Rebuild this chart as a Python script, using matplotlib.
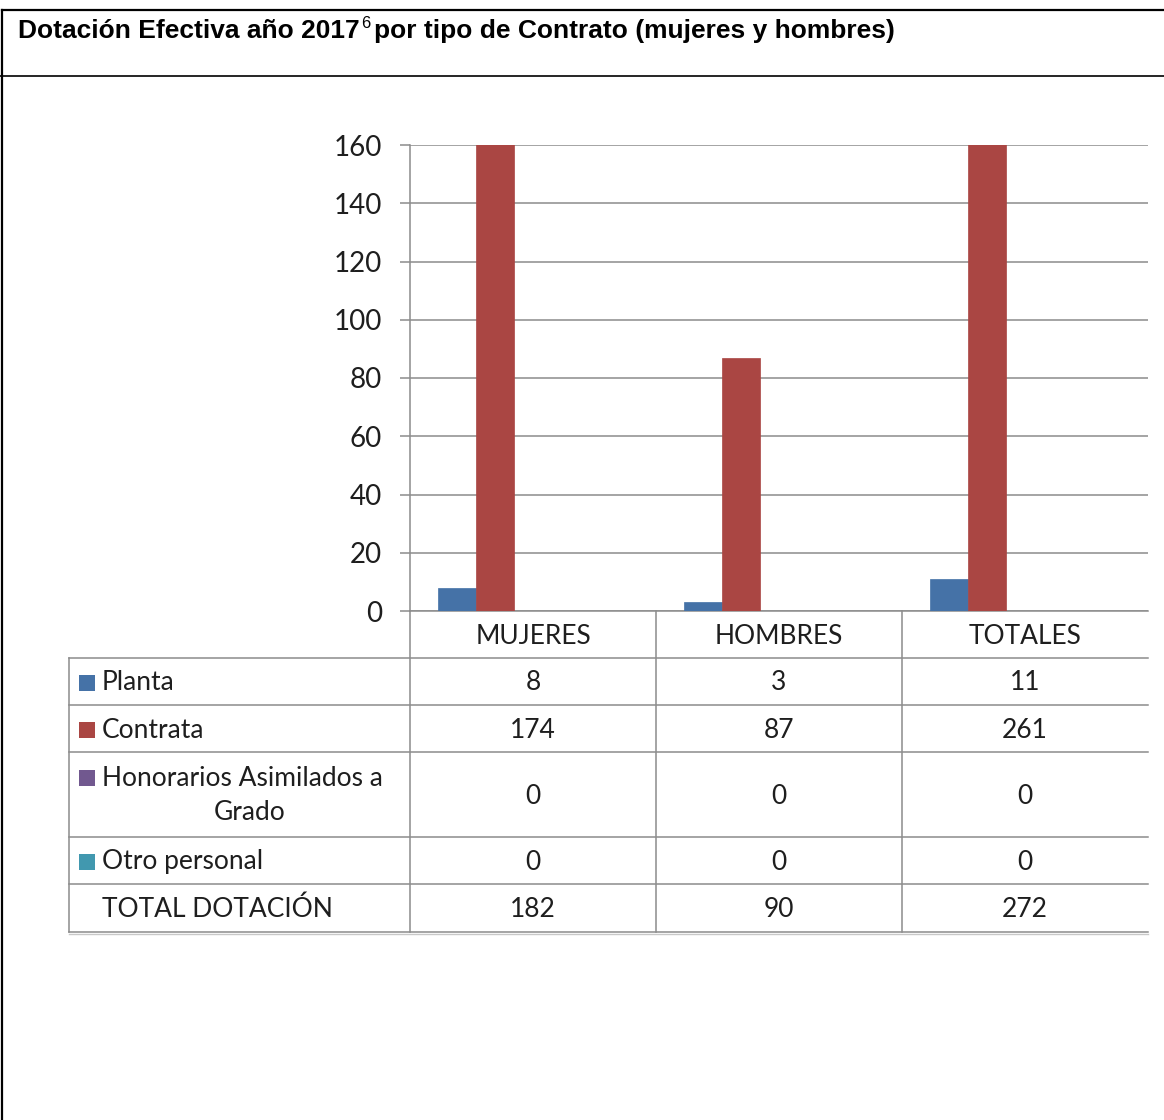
import numpy as np
import matplotlib
matplotlib.use('Agg')
import matplotlib.pyplot as plt
from matplotlib.patches import Rectangle

# Data
categories = ['MUJERES', 'HOMBRES', 'TOTALES']
series_names = ['Planta', 'Contrata', 'Honorarios Asimilados a\nGrado', 'Otro personal', 'TOTAL DOTACIÓN']
planta = [8, 3, 11]
contrata = [174, 87, 261]
honorarios = [0, 0, 0]
otro = [0, 0, 0]
total = [182, 90, 272]
series_values = [planta, contrata, honorarios, otro, total]
series_colors = ['#4572A7', '#AA4643', '#71588F', '#4198AF', None]
y_ticks = [0, 20, 40, 60, 80, 100, 120, 140, 160]

W, H = 1164, 1120
chart_font = ['Lato', 'DejaVu Sans']
title_font = ['Liberation Sans Narrow', 'Liberation Sans', 'DejaVu Sans']
grid_col = '#8c8c8c'
txt_col = '#1e1e1e'

fig = plt.figure(figsize=(W / 100, H / 100), dpi=100)
fig.patch.set_facecolor('white')

# background layer in pixel coordinates for frame and data table
bg = fig.add_axes([0, 0, 1, 1], zorder=0)
bg.set_xlim(0, W)
bg.set_ylim(H, 0)
bg.axis('off')

# page frame
bg.plot([2, W], [10, 10], color='black', lw=1.6)
bg.plot([2, 2], [10, H], color='black', lw=1.6)
bg.plot([0, W], [76, 76], color='black', lw=1.2)

# title with superscript footnote mark
renderer = fig.canvas.get_renderer()
t1 = bg.text(18, 31, 'Dotación Efectiva año 2017', family=title_font, fontweight='bold',
             fontsize=19, va='center', ha='left', color='black')
bb = t1.get_window_extent(renderer)
t2 = fig.text((bb.x1 + 1) / W, (H - 23) / H, '6', family=title_font, fontsize=12,
              va='center', ha='left', color='black')
bb2 = t2.get_window_extent(renderer)
fig.text((bb2.x1 + 4) / W, (H - 31) / H, 'por tipo de Contrato (mujeres y hombres)',
         family=title_font, fontweight='bold', fontsize=19, va='center', ha='left', color='black')

# plot area
px_l, px_r, px_t, px_b = 410, 1148, 145, 611
ax = fig.add_axes([px_l / W, (H - px_b) / H, (px_r - px_l) / W, (px_b - px_t) / H], zorder=1)
ax.set_facecolor('none')

n_series = len(series_values)
bar_w = 38 / 246
x = np.arange(len(categories))
for j, (vals, col) in enumerate(zip(series_values, series_colors)):
    if col is None:
        continue
    offs = (j - (n_series - 1) / 2) * bar_w
    ax.bar(x + offs, vals, width=bar_w, color=col, edgecolor=col, linewidth=0.5, zorder=3)

ax.set_xlim(-0.5, len(categories) - 0.5)
ax.set_ylim(0, 160)
ax.set_yticks(y_ticks)
ax.set_yticklabels([str(v) for v in y_ticks], family=chart_font, fontsize=20, color=txt_col)
ax.set_xticks([])
ax.yaxis.grid(True, color=grid_col, lw=1.1, zorder=0)
ax.tick_params(axis='y', length=7.2, width=1.1, color=grid_col, pad=13)
for s in ['top', 'right', 'bottom']:
    ax.spines[s].set_visible(False)
ax.spines['left'].set_color(grid_col)
ax.spines['left'].set_linewidth(1.1)

# data table
col_edges = [410, 656, 902, 1148]
row_edges = [658, 705, 752, 837, 884, 932]
lc = dict(color=grid_col, lw=1.1)
bg.plot([410, 1148], [611, 611], **lc)
for yy in row_edges:
    bg.plot([69, 1148], [yy, yy], **lc)
bg.plot([69, 1148], [934, 934], color='#c8c8c8', lw=1.0)
for xx in col_edges[:-1]:
    bg.plot([xx, xx], [611, 932], **lc)
bg.plot([69, 69], [658, 932], **lc)

tfs = 19
dy = 1.5
for i, cat in enumerate(categories):
    cx = (col_edges[i] + col_edges[i + 1]) / 2
    bg.text(cx, 635 + dy, cat, family=chart_font, fontsize=tfs, ha='center', va='center', color=txt_col)

for r, (name, vals, col) in enumerate(zip(series_names, series_values, series_colors)):
    top, bot = row_edges[r], row_edges[r + 1]
    cy = (top + bot) / 2 + dy
    if '\n' in name:
        first, second = name.split('\n')
        ly = top + 26
        bg.text(102, ly, first, family=chart_font, fontsize=tfs, ha='left', va='center', color=txt_col)
        bg.text(250, ly + 35, second, family=chart_font, fontsize=tfs, ha='center', va='center', color=txt_col)
        key_y = ly
    else:
        bg.text(102, cy, name, family=chart_font, fontsize=tfs, ha='left', va='center', color=txt_col)
        key_y = cy
    if col is not None:
        bg.add_patch(Rectangle((79, key_y - 8), 16, 16, facecolor=col, edgecolor='none'))
    for i, v in enumerate(vals):
        cx = (col_edges[i] + col_edges[i + 1]) / 2
        bg.text(cx, cy, str(v), family=chart_font, fontsize=tfs, ha='center', va='center', color=txt_col)

fig.savefig('out.png', dpi=100, facecolor='white')
